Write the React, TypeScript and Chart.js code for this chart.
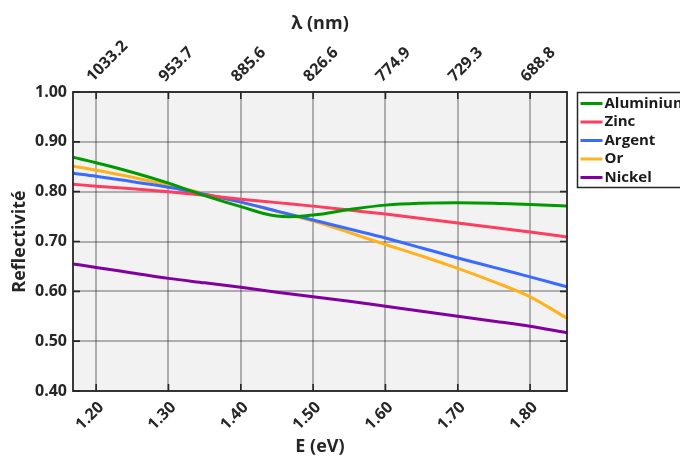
import React, { useEffect, useRef } from 'react';
import { Chart, registerables } from 'chart.js';

Chart.register(...registerables);

const energies = [1.168, 1.2, 1.25, 1.3, 1.35, 1.4, 1.45, 1.5, 1.55, 1.6, 1.65, 1.7, 1.75, 1.8, 1.851];
const aluminium = [0.869, 0.858, 0.839, 0.817, 0.792, 0.77, 0.751, 0.753, 0.764, 0.773, 0.777, 0.778, 0.777, 0.774, 0.771];
const zinc = [0.815, 0.811, 0.806, 0.8, 0.793, 0.785, 0.778, 0.771, 0.763, 0.755, 0.746, 0.737, 0.728, 0.719, 0.709];
const argent = [0.837, 0.831, 0.82, 0.809, 0.795, 0.779, 0.761, 0.743, 0.725, 0.707, 0.687, 0.667, 0.648, 0.629, 0.609];
const or = [0.851, 0.843, 0.829, 0.813, 0.796, 0.779, 0.76, 0.741, 0.718, 0.694, 0.671, 0.646, 0.619, 0.589, 0.546];
const nickel = [0.655, 0.648, 0.637, 0.626, 0.617, 0.608, 0.598, 0.589, 0.58, 0.57, 0.56, 0.55, 0.54, 0.53, 0.517];

const seriesNames = ['Aluminium', 'Zinc', 'Argent', 'Or', 'Nickel'];
const seriesColors = ['#009a00', '#ff3d5f', '#3a6bff', '#ffb21c', '#82009e'];

const xTicks = [1.2, 1.3, 1.4, 1.5, 1.6, 1.7, 1.8];
const xTickLabels = ['1.20', '1.30', '1.40', '1.50', '1.60', '1.70', '1.80'];
const topTickLabels = ['1033.2', '953.7', '885.6', '826.6', '774.9', '729.3', '688.8'];
const yTicks = [0.4, 0.5, 0.6, 0.7, 0.8, 0.9, 1.0];
const yTickLabels = ['0.40', '0.50', '0.60', '0.70', '0.80', '0.90', '1.00'];

const X_MIN = 1.168;
const X_MAX = 1.851;
const Y_MIN = 0.4;
const Y_MAX = 1.0;

const FONT_FAMILY = '"Open Sans", "Noto Sans", sans-serif';
const TEXT_COLOR = '#262626';
const GRID_COLOR = 'rgba(0,0,0,0.28)';

const framePlugin = {
  id: 'framePlugin',
  beforeDraw(chart: any) {
    const { ctx, chartArea: a } = chart;
    ctx.save();
    ctx.fillStyle = '#f2f2f2';
    ctx.fillRect(a.left, a.top, a.right - a.left, a.bottom - a.top);
    ctx.restore();
  },
  afterDatasetsDraw(chart: any) {
    const { ctx, chartArea: a, scales } = chart;
    ctx.save();
    ctx.strokeStyle = '#262626';
    ctx.lineWidth = 1.6;
    const tl = 7;
    ctx.beginPath();
    xTicks.forEach((v) => {
      const px = scales.x.getPixelForValue(v);
      ctx.moveTo(px, a.bottom);
      ctx.lineTo(px, a.bottom - tl);
      ctx.moveTo(px, a.top);
      ctx.lineTo(px, a.top + tl);
    });
    yTicks.forEach((v) => {
      const py = scales.y.getPixelForValue(v);
      ctx.moveTo(a.left, py);
      ctx.lineTo(a.left + tl, py);
      ctx.moveTo(a.right, py);
      ctx.lineTo(a.right - tl, py);
    });
    ctx.stroke();
    ctx.lineWidth = 1.8;
    ctx.strokeRect(a.left, a.top, a.right - a.left, a.bottom - a.top);
    ctx.restore();
  },
  afterDraw(chart: any) {
    const { ctx, chartArea: a } = chart;
    ctx.save();
    const bx = a.right + 10.5;
    const by = a.top + 0.5;
    ctx.strokeStyle = '#262626';
    ctx.lineWidth = 1.5;
    ctx.strokeRect(bx, by, 140, 95);
    ctx.font = `bold 15px ${FONT_FAMILY}`;
    ctx.textBaseline = 'middle';
    ctx.textAlign = 'left';
    chart.data.datasets.forEach((ds: any, i: number) => {
      const y = by + 11 + i * 18.5;
      ctx.strokeStyle = ds.borderColor;
      ctx.lineWidth = 3;
      ctx.beginPath();
      ctx.moveTo(bx + 3, y);
      ctx.lineTo(bx + 25, y);
      ctx.stroke();
      ctx.fillStyle = '#1a1a1a';
      ctx.fillText(ds.label, bx + 27, y);
    });
    ctx.restore();
  },
};

export default function App() {
  const canvasRef = useRef<HTMLCanvasElement | null>(null);

  useEffect(() => {
    if (!canvasRef.current) return;
    const allSeries = [aluminium, zinc, argent, or, nickel];
    const font = { family: FONT_FAMILY, size: 16, weight: 'bold' as const };
    const titleFont = { family: FONT_FAMILY, size: 18, weight: 'bold' as const };
    const chart = new Chart(canvasRef.current, {
      type: 'line',
      data: {
        datasets: allSeries.map((vals, i) => ({
          label: seriesNames[i],
          data: vals.map((v, j) => ({ x: energies[j], y: v })),
          borderColor: seriesColors[i],
          backgroundColor: seriesColors[i],
          borderWidth: 3,
          pointRadius: 0,
          cubicInterpolationMode: i === 0 ? 'default' : 'monotone',
          tension: 0.4,
          fill: false,
        })),
      },
      options: {
        animation: false,
        responsive: false,
        devicePixelRatio: 1,
        layout: { padding: { left: 0, right: 113, top: 0, bottom: 0 } },
        plugins: {
          legend: { display: false },
          tooltip: { enabled: false },
        },
        scales: {
          x: {
            type: 'linear',
            position: 'bottom',
            min: X_MIN,
            max: X_MAX,
            afterBuildTicks: (s: any) => {
              s.ticks = xTicks.map((v) => ({ value: v }));
            },
            afterFit: (s: any) => {
              s.height = 65;
            },
            ticks: {
              autoSkip: false,
              minRotation: 45,
              maxRotation: 45,
              padding: 7,
              labelOffset: 5,
              color: TEXT_COLOR,
              font,
              callback: (_v: any, i: number) => xTickLabels[i],
            },
            grid: { color: GRID_COLOR, lineWidth: 2, drawTicks: false },
            border: { display: false },
            title: {
              display: true,
              text: 'E (eV)',
              color: TEXT_COLOR,
              font: { ...titleFont, lineHeight: 1 },
              padding: { top: 0, bottom: 0 },
            },
          },
          x2: {
            type: 'linear',
            position: 'top',
            min: X_MIN,
            max: X_MAX,
            afterBuildTicks: (s: any) => {
              s.ticks = xTicks.map((v) => ({ value: v }));
            },
            afterFit: (s: any) => {
              s.height = 92;
            },
            ticks: {
              autoSkip: false,
              minRotation: 45,
              maxRotation: 45,
              padding: 6,
              labelOffset: 7,
              color: TEXT_COLOR,
              font,
              callback: (_v: any, i: number) => topTickLabels[i],
            },
            grid: { display: false, drawTicks: false },
            border: { display: false },
            title: {
              display: true,
              text: 'λ (nm)',
              color: TEXT_COLOR,
              font: { ...titleFont, lineHeight: 1.2 },
              padding: { top: 13, bottom: 0 },
            },
          },
          y: {
            type: 'linear',
            position: 'left',
            min: Y_MIN,
            max: Y_MAX,
            afterBuildTicks: (s: any) => {
              s.ticks = yTicks.map((v) => ({ value: v }));
            },
            afterFit: (s: any) => {
              s.width = 73;
            },
            ticks: {
              padding: 6,
              color: TEXT_COLOR,
              font,
              callback: (_v: any, i: number) => yTickLabels[i],
            },
            grid: { color: GRID_COLOR, lineWidth: 2, drawTicks: false },
            border: { display: false },
            title: {
              display: true,
              text: 'Reflectivité',
              color: TEXT_COLOR,
              font: { ...titleFont, lineHeight: 1.2 },
              padding: { top: 9, bottom: 0 },
            },
          },
        },
      },
      plugins: [framePlugin],
    } as any);
    return () => chart.destroy();
  }, []);

  return (
    <div style={{ position: 'absolute', left: 0, top: 0, width: 680, height: 456, background: '#fff' }}>
      <canvas ref={canvasRef} width={680} height={456} style={{ display: 'block' }} />
    </div>
  );
}
